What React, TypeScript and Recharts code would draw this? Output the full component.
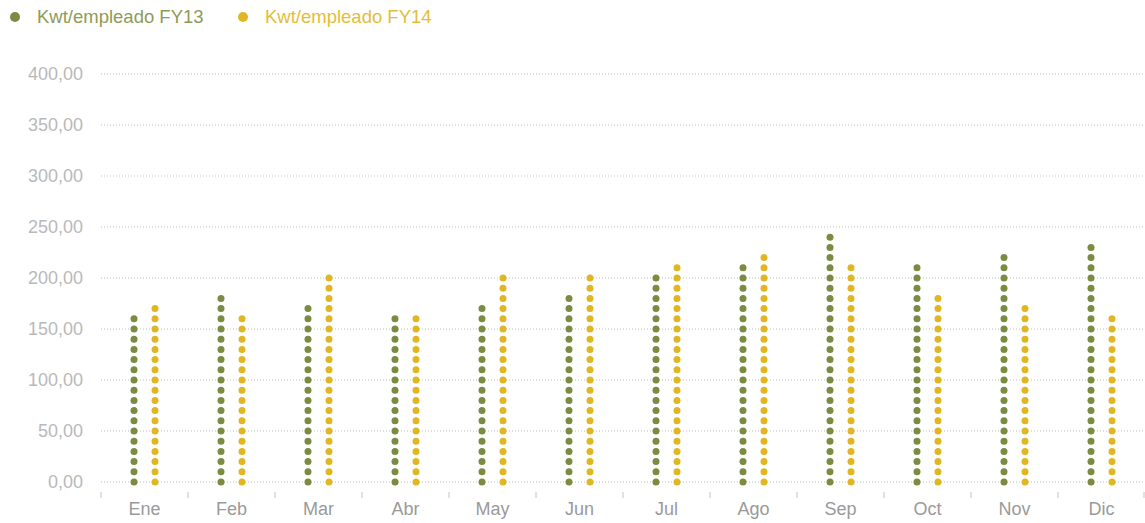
import React from "react";
import {
  BarChart,
  Bar,
  XAxis,
  YAxis,
  CartesianGrid,
} from "recharts";

const months = ["Ene", "Feb", "Mar", "Abr", "May", "Jun", "Jul", "Ago", "Sep", "Oct", "Nov", "Dic"];
const fy13 = [160, 180, 170, 160, 170, 180, 200, 210, 240, 210, 220, 230];
const fy14 = [170, 160, 200, 160, 200, 200, 210, 220, 210, 180, 170, 160];
const yTicks = [0, 50, 100, 150, 200, 250, 300, 350, 400];
const DOT_STEP = 10;

const GREEN = "#7b8b41";
const YELLOW = "#e1b623";
const FONT = "'Liberation Sans', Arial, sans-serif";

const data = months.map((m, i) => ({ month: m, fy13: fy13[i], fy14: fy14[i] }));

const series = [
  { key: "fy13", name: "Kwt/empleado FY13", color: GREEN, text: "#8d9b57", left: 10 },
  { key: "fy14", name: "Kwt/empleado FY14", color: YELLOW, text: "#e3bd3a", left: 238 },
];

// draws a column of dots, one every DOT_STEP units, from 0 up to the value
function dotColumn(key: string, color: string) {
  return (props: any) => {
    const { x, y, width, height, payload } = props;
    const value = payload[key];
    const n = Math.round(value / DOT_STEP);
    if (!n) return <g />;
    const step = height / n;
    const cx = x + width / 2;
    const dots = [];
    for (let i = 0; i <= n; i++) {
      dots.push(<circle key={i} cx={cx} cy={y + height - i * step} r={3.5} fill={color} />);
    }
    return <g>{dots}</g>;
  };
}

function MonthTick(props: any) {
  const { x, y, payload, index, visibleTicksCount } = props;
  const half = payload.offset || 43.5;
  const top = y + 2;
  return (
    <g>
      <line x1={x - half} x2={x - half} y1={top} y2={top + 6} stroke="#c4c4c4" />
      {index === visibleTicksCount - 1 && (
        <line x1={x + half - 1} x2={x + half - 1} y1={top} y2={top + 6} stroke="#c4c4c4" />
      )}
      <text x={x} y={y + 25} textAnchor="middle" fill="#9a9a9a" fontSize={18} fontFamily={FONT}>
        {payload.value}
      </text>
    </g>
  );
}

function TopLegend() {
  return (
    <div style={{ position: "absolute", left: 0, top: 6, width: 600, height: 22, fontFamily: FONT, fontSize: 18.5 }}>
      {series.map((s) => (
        <div
          key={s.key}
          style={{ position: "absolute", left: s.left, top: 0, display: "flex", alignItems: "center", whiteSpace: "nowrap" }}
        >
          <span
            style={{
              width: 10,
              height: 10,
              borderRadius: 5,
              background: s.color,
              display: "inline-block",
              marginRight: 17,
            }}
          />
          <span style={{ color: s.text }}>{s.name}</span>
        </div>
      ))}
    </div>
  );
}

export default function App() {
  return (
    <div style={{ position: "absolute", left: 0, top: 0, width: 1145, height: 523, background: "#fff" }}>
      <BarChart
        width={1145}
        height={523}
        data={data}
        margin={{ top: 74, right: 0, bottom: 0, left: 0 }}
        barSize={8}
        barGap={13}
      >
        <CartesianGrid vertical={false} stroke="#bdbdbd" strokeDasharray="1 2" />
        <XAxis
          dataKey="month"
          axisLine={false}
          tickLine={false}
          height={41}
          tick={<MonthTick />}
          interval={0}
        />
        <YAxis
          domain={[0, 400]}
          ticks={yTicks}
          width={101}
          axisLine={false}
          tickLine={false}
          tickMargin={12}
          tickFormatter={(v: number) => v.toFixed(2).replace(".", ",")}
          tick={{ fill: "#b9b9b9", fontSize: 18, fontFamily: FONT }}
        />
        {series.map((s) => (
          <Bar
            key={s.key}
            dataKey={s.key}
            name={s.name}
            fill={s.color}
            shape={dotColumn(s.key, s.color)}
            isAnimationActive={false}
          />
        ))}
      </BarChart>
      <TopLegend />
    </div>
  );
}
